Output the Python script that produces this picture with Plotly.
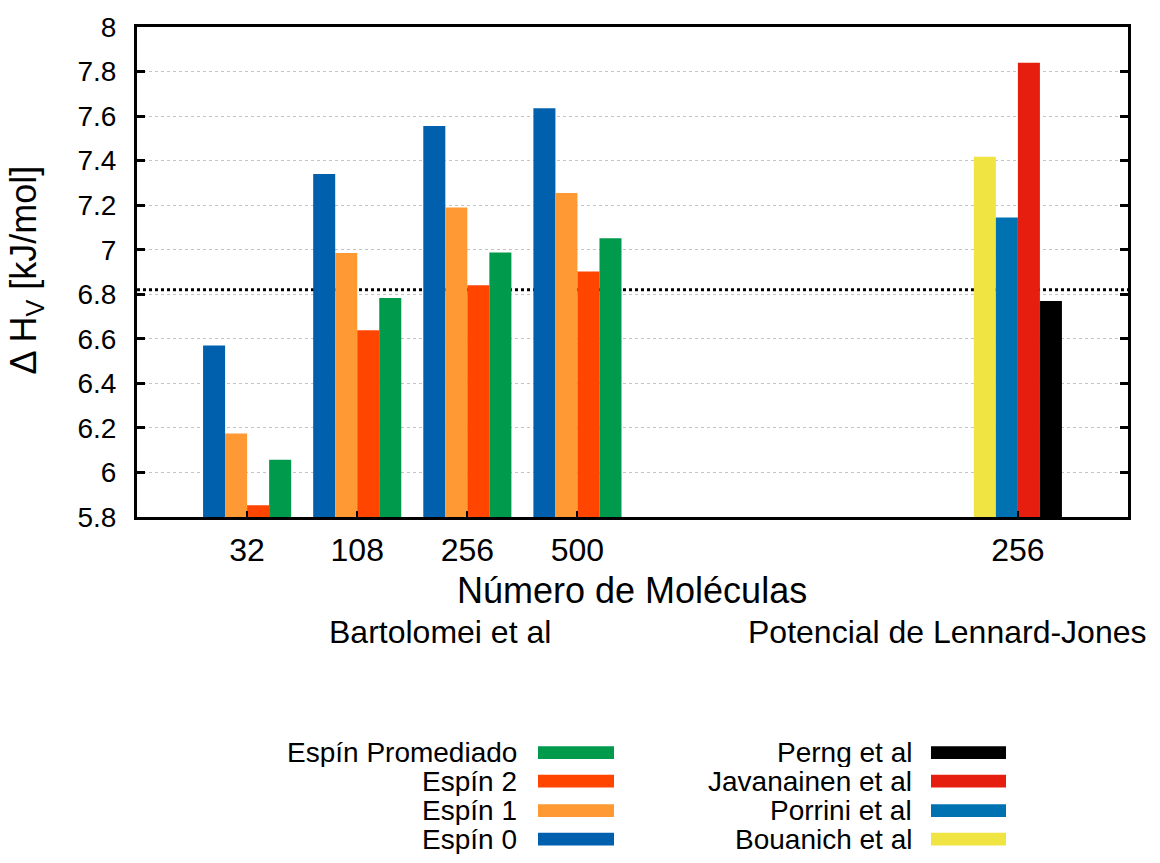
import plotly.graph_objects as go

# Group positions and tick labels on the x axis
group_x = [1, 2, 3, 4]
group_labels = ["32", "108", "256", "500"]
lj_x = [8]
lj_labels = ["256"]

# Bartolomei et al, enthalpy of vaporisation per spin state [kJ/mol]
espin0 = [6.57, 7.34, 7.555, 7.635]
espin1 = [6.175, 6.985, 7.19, 7.255]
espin2 = [5.853, 6.638, 6.84, 6.902]
espin_prom = [6.057, 6.783, 6.987, 7.052]

# Lennard-Jones potential references [kJ/mol]
bouanich = [7.418]
porrini = [7.145]
javanainen = [7.84]
perng = [6.77]

# Experimental reference value
ref_value = 6.82

y_ticks = [5.8, 6.0, 6.2, 6.4, 6.6, 6.8, 7.0, 7.2, 7.4, 7.6, 7.8, 8.0]
y_tick_text = ["5.8", "6", "6.2", "6.4", "6.6", "6.8", "7", "7.2", "7.4", "7.6", "7.8", "8"]

bart_series = [
    ("Espín 0", espin0, "#0060ad"),
    ("Espín 1", espin1, "#ff9933"),
    ("Espín 2", espin2, "#ff4500"),
    ("Espín Promediado", espin_prom, "#009a4c"),
]
lj_series = [
    ("Bouanich et al", bouanich, "#f0e442"),
    ("Porrini et al", porrini, "#0072b2"),
    ("Javanainen et al", javanainen, "#e51e10"),
    ("Perng et al", perng, "#000000"),
]

W, H = 1160, 863
L, R, T, B = 137, 32, 18, 346
PW, PH = W - L - R, H - T - B

def px_x(px):
    return (px - L) / PW

def px_y(py):
    return (H - B - py) / PH

fig = go.Figure()

bar_w = 0.2
for i, (name, vals, color) in enumerate(bart_series):
    fig.add_trace(go.Bar(
        x=group_x, y=vals, name=name, width=bar_w, offset=-0.4 + i * bar_w,
        marker=dict(color=color, line=dict(width=0)), showlegend=False,
    ))
for i, (name, vals, color) in enumerate(lj_series):
    fig.add_trace(go.Bar(
        x=lj_x, y=vals, name=name, width=bar_w, offset=-0.4 + i * bar_w,
        marker=dict(color=color, line=dict(width=0)), showlegend=False,
    ))

# Dotted reference line, behind the bars
fig.add_shape(type="line", xref="x", yref="y", x0=0, x1=9, y0=ref_value, y1=ref_value,
              line=dict(color="black", width=3, dash="dot"), layer="below")

font_family = "Liberation Sans, Arial, sans-serif"

fig.update_layout(
    width=W, height=H,
    margin=dict(l=L, r=R, t=T, b=B),
    paper_bgcolor="white", plot_bgcolor="white",
    barmode="overlay",
    font=dict(family=font_family, color="black", size=28),
    showlegend=False,
)
fig.update_xaxes(
    range=[0, 9], tickvals=group_x + lj_x, ticktext=group_labels + lj_labels,
    ticks="inside", ticklen=6, tickwidth=2, tickcolor="black",
    showline=True, linewidth=3, linecolor="black", mirror=True,
    showgrid=False, zeroline=False, ticklabelstandoff=3,
    tickfont=dict(size=32),
)
fig.update_yaxes(
    range=[5.8, 8.0], tickvals=y_ticks, ticktext=y_tick_text,
    ticks="inside", ticklen=8, tickwidth=3, tickcolor="black",
    showline=True, linewidth=3, linecolor="black", mirror="ticks",
    showgrid=True, gridcolor="#c4c4c4", gridwidth=1, griddash="dot",
    zeroline=False, ticklabelstandoff=12,
    tickfont=dict(size=28),
)

annotations = [
    dict(text="Δ H<sub>V</sub> [kJ/mol]", x=px_x(26), y=px_y(266), textangle=-90,
         font=dict(size=36), xanchor="center", yanchor="middle"),
    dict(text="Número de Moléculas", x=px_x(632), y=px_y(592),
         font=dict(size=36), xanchor="center", yanchor="middle"),
    dict(text="Bartolomei et al", x=px_x(440), y=px_y(634),
         font=dict(size=32), xanchor="center", yanchor="middle"),
    dict(text="Potencial de Lennard-Jones", x=px_x(1149), y=px_y(634),
         font=dict(size=32), xanchor="right", yanchor="middle"),
]

# Two-column key: label right-aligned, then the colour swatch
row_y = [757, 786, 816, 845]
columns = [
    (list(reversed(bart_series)), 519, 538, 614),
    (list(reversed(lj_series)), 914, 931, 1006),
]
shapes = []
for series, text_right, sw0, sw1 in columns:
    for (name, _, color), ry in zip(series, row_y):
        annotations.append(dict(text=name, x=px_x(text_right), y=px_y(ry),
                                xanchor="right", yanchor="middle", height=29,
                                font=dict(size=28)))
        shapes.append(dict(type="rect", xref="paper", yref="paper",
                           x0=px_x(sw0), x1=px_x(sw1), y0=px_y(ry + 6.5), y1=px_y(ry - 6.5),
                           fillcolor=color, line=dict(width=0)))

for a in annotations:
    a.update(xref="paper", yref="paper", showarrow=False)
fig.update_layout(annotations=annotations)
for s in shapes:
    fig.add_shape(**s)

fig.write_html("out.html")
